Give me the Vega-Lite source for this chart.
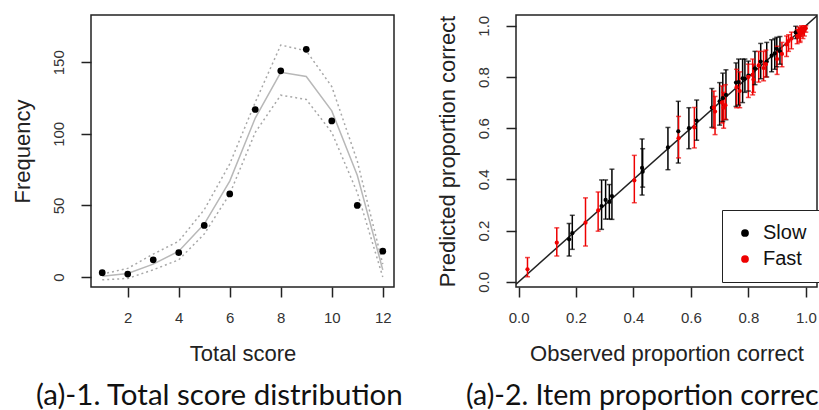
{
  "$schema": "https://vega.github.io/schema/vega-lite/v6.json",
  "padding": {"left": 10, "top": 14, "right": 0, "bottom": 0},
  "background": "white",
  "datasets": {
    "score": [
      {"score": 1, "obs": 3, "fit": 0.5, "lo": -2, "hi": 2},
      {"score": 2, "obs": 2, "fit": 2.5, "lo": -1, "hi": 6},
      {"score": 3, "obs": 12, "fit": 9, "lo": 5, "hi": 16},
      {"score": 4, "obs": 17, "fit": 18, "lo": 12, "hi": 25},
      {"score": 5, "obs": 36, "fit": 37, "lo": 30, "hi": 47},
      {"score": 6, "obs": 58, "fit": 67, "lo": 58, "hi": 79},
      {"score": 7, "obs": 117, "fit": 111, "lo": 101, "hi": 122},
      {"score": 8, "obs": 144, "fit": 143, "lo": 127, "hi": 162},
      {"score": 9, "obs": 159, "fit": 140, "lo": 124, "hi": 158},
      {"score": 10, "obs": 109, "fit": 116, "lo": 101, "hi": 133},
      {"score": 11, "obs": 50, "fit": 71, "lo": 59, "hi": 81},
      {"score": 12, "obs": 18, "fit": 5, "lo": 0, "hi": 9}
    ],
    "items": [
      {"group": "Slow", "obs": 0.176, "pred": 0.166, "lo": 0.101, "hi": 0.228},
      {"group": "Slow", "obs": 0.187, "pred": 0.190, "lo": 0.127, "hi": 0.260},
      {"group": "Slow", "obs": 0.289, "pred": 0.296, "lo": 0.205, "hi": 0.398},
      {"group": "Slow", "obs": 0.303, "pred": 0.320, "lo": 0.245, "hi": 0.398},
      {"group": "Slow", "obs": 0.316, "pred": 0.312, "lo": 0.245, "hi": 0.380},
      {"group": "Slow", "obs": 0.325, "pred": 0.335, "lo": 0.244, "hi": 0.440},
      {"group": "Slow", "obs": 0.430, "pred": 0.445, "lo": 0.339, "hi": 0.558},
      {"group": "Slow", "obs": 0.432, "pred": 0.430, "lo": 0.370, "hi": 0.520},
      {"group": "Slow", "obs": 0.520, "pred": 0.525, "lo": 0.438, "hi": 0.603},
      {"group": "Slow", "obs": 0.556, "pred": 0.588, "lo": 0.464, "hi": 0.705},
      {"group": "Slow", "obs": 0.593, "pred": 0.600, "lo": 0.520, "hi": 0.680},
      {"group": "Slow", "obs": 0.620, "pred": 0.630, "lo": 0.553, "hi": 0.710},
      {"group": "Slow", "obs": 0.673, "pred": 0.680, "lo": 0.603, "hi": 0.755},
      {"group": "Slow", "obs": 0.700, "pred": 0.705, "lo": 0.612, "hi": 0.778},
      {"group": "Slow", "obs": 0.711, "pred": 0.717, "lo": 0.626, "hi": 0.815},
      {"group": "Slow", "obs": 0.722, "pred": 0.730, "lo": 0.633, "hi": 0.828},
      {"group": "Slow", "obs": 0.757, "pred": 0.778, "lo": 0.685, "hi": 0.855},
      {"group": "Slow", "obs": 0.766, "pred": 0.780, "lo": 0.690, "hi": 0.870},
      {"group": "Slow", "obs": 0.780, "pred": 0.795, "lo": 0.700, "hi": 0.870},
      {"group": "Slow", "obs": 0.788, "pred": 0.793, "lo": 0.740, "hi": 0.870},
      {"group": "Slow", "obs": 0.800, "pred": 0.805, "lo": 0.745, "hi": 0.862},
      {"group": "Slow", "obs": 0.823, "pred": 0.834, "lo": 0.770, "hi": 0.900},
      {"group": "Slow", "obs": 0.843, "pred": 0.860, "lo": 0.793, "hi": 0.931},
      {"group": "Slow", "obs": 0.864, "pred": 0.860, "lo": 0.800, "hi": 0.935},
      {"group": "Slow", "obs": 0.881, "pred": 0.883, "lo": 0.820, "hi": 0.945},
      {"group": "Slow", "obs": 0.892, "pred": 0.892, "lo": 0.830, "hi": 0.950},
      {"group": "Slow", "obs": 0.899, "pred": 0.910, "lo": 0.840, "hi": 0.955},
      {"group": "Slow", "obs": 0.910, "pred": 0.900, "lo": 0.850, "hi": 0.958},
      {"group": "Slow", "obs": 0.965, "pred": 0.974, "lo": 0.950, "hi": 0.998},
      {"group": "Fast", "obs": 0.031, "pred": 0.049, "lo": 0.020, "hi": 0.095},
      {"group": "Fast", "obs": 0.133, "pred": 0.153, "lo": 0.101, "hi": 0.211},
      {"group": "Fast", "obs": 0.233, "pred": 0.231, "lo": 0.140, "hi": 0.328},
      {"group": "Fast", "obs": 0.277, "pred": 0.279, "lo": 0.198, "hi": 0.351},
      {"group": "Fast", "obs": 0.403, "pred": 0.396, "lo": 0.309, "hi": 0.494},
      {"group": "Fast", "obs": 0.557, "pred": 0.561, "lo": 0.484, "hi": 0.646},
      {"group": "Fast", "obs": 0.612, "pred": 0.603, "lo": 0.523, "hi": 0.681},
      {"group": "Fast", "obs": 0.680, "pred": 0.680, "lo": 0.600, "hi": 0.745},
      {"group": "Fast", "obs": 0.684, "pred": 0.665, "lo": 0.575, "hi": 0.724},
      {"group": "Fast", "obs": 0.708, "pred": 0.700, "lo": 0.620, "hi": 0.765},
      {"group": "Fast", "obs": 0.720, "pred": 0.690, "lo": 0.635, "hi": 0.770},
      {"group": "Fast", "obs": 0.714, "pred": 0.680, "lo": 0.600, "hi": 0.740},
      {"group": "Fast", "obs": 0.759, "pred": 0.760, "lo": 0.680, "hi": 0.830},
      {"group": "Fast", "obs": 0.770, "pred": 0.745, "lo": 0.680, "hi": 0.820},
      {"group": "Fast", "obs": 0.800, "pred": 0.800, "lo": 0.720, "hi": 0.850},
      {"group": "Fast", "obs": 0.815, "pred": 0.808, "lo": 0.730, "hi": 0.870},
      {"group": "Fast", "obs": 0.818, "pred": 0.790, "lo": 0.740, "hi": 0.850},
      {"group": "Fast", "obs": 0.836, "pred": 0.845, "lo": 0.780, "hi": 0.900},
      {"group": "Fast", "obs": 0.853, "pred": 0.835, "lo": 0.785, "hi": 0.900},
      {"group": "Fast", "obs": 0.861, "pred": 0.850, "lo": 0.800, "hi": 0.905},
      {"group": "Fast", "obs": 0.900, "pred": 0.870, "lo": 0.810, "hi": 0.920},
      {"group": "Fast", "obs": 0.917, "pred": 0.890, "lo": 0.840, "hi": 0.935},
      {"group": "Fast", "obs": 0.933, "pred": 0.927, "lo": 0.880, "hi": 0.960},
      {"group": "Fast", "obs": 0.940, "pred": 0.940, "lo": 0.900, "hi": 0.965},
      {"group": "Fast", "obs": 0.950, "pred": 0.950, "lo": 0.910, "hi": 0.975},
      {"group": "Fast", "obs": 0.970, "pred": 0.960, "lo": 0.930, "hi": 0.985},
      {"group": "Fast", "obs": 0.975, "pred": 0.980, "lo": 0.950, "hi": 0.995},
      {"group": "Fast", "obs": 0.980, "pred": 0.970, "lo": 0.940, "hi": 0.990},
      {"group": "Fast", "obs": 0.985, "pred": 0.990, "lo": 0.965, "hi": 1.000},
      {"group": "Fast", "obs": 0.990, "pred": 0.975, "lo": 0.950, "hi": 0.995},
      {"group": "Fast", "obs": 0.995, "pred": 0.985, "lo": 0.960, "hi": 1.000},
      {"group": "Fast", "obs": 1.000, "pred": 0.990, "lo": 0.975, "hi": 1.000},
      {"group": "Fast", "obs": 0.980, "pred": 0.960, "lo": 0.935, "hi": 0.985}
    ],
    "diag": [{"x": -0.1, "y": -0.1}, {"x": 1.2, "y": 1.2}]
  },
  "spacing": 30,
  "hconcat": [
    {
      "width": 303,
      "height": 272,
      "title": {"text": "(a)-1. Total score distribution", "orient": "bottom", "anchor": "start", "frame": "group", "dx": -55, "offset": 18, "font": "Lato", "fontSize": 29.5, "fontWeight": "normal", "color": "#111"},
      "data": {"name": "score"},
      "layer": [
        {
          "mark": {"type": "line", "color": "#b8b8b8", "strokeWidth": 1.5},
          "encoding": {
            "x": {"field": "score", "type": "quantitative", "title": "Total score", "scale": {"domain": [0.56, 12.44], "nice": false, "zero": false}, "axis": {"values": [2, 4, 6, 8, 10, 12]}},
            "y": {"field": "fit", "type": "quantitative", "title": "Frequency", "scale": {"domain": [-7, 183], "nice": false, "zero": false}, "axis": {"values": [0, 50, 100, 150]}}
          }
        },
        {
          "mark": {"type": "line", "color": "#a8a8a8", "strokeWidth": 1.5, "strokeDash": [2, 3]},
          "encoding": {
            "x": {"field": "score", "type": "quantitative", "title": "Total score"},
            "y": {"field": "hi", "type": "quantitative", "title": "Frequency"}
          }
        },
        {
          "mark": {"type": "line", "color": "#a8a8a8", "strokeWidth": 1.5, "strokeDash": [2, 3]},
          "encoding": {
            "x": {"field": "score", "type": "quantitative", "title": "Total score"},
            "y": {"field": "lo", "type": "quantitative", "title": "Frequency"}
          }
        },
        {
          "mark": {"type": "point", "shape": "circle", "filled": true, "color": "black", "opacity": 1, "size": 45},
          "encoding": {
            "x": {"field": "score", "type": "quantitative", "title": "Total score"},
            "y": {"field": "obs", "type": "quantitative", "title": "Frequency"}
          }
        }
      ]
    },
    {
      "width": 301,
      "height": 272,
      "title": {"text": "(a)-2. Item proportion correct", "orient": "bottom", "anchor": "start", "frame": "group", "dx": -50, "offset": 18, "font": "Lato", "fontSize": 28.5, "fontWeight": "normal", "color": "#111"},
      "layer": [
        {
          "data": {"name": "diag"},
          "mark": {"type": "line", "color": "#222", "strokeWidth": 1.5, "clip": true},
          "encoding": {
            "x": {"field": "x", "type": "quantitative", "title": "Observed proportion correct", "scale": {"domain": [-0.009, 1.039], "nice": false, "zero": false}, "axis": {"values": [0, 0.2, 0.4, 0.6, 0.8, 1], "format": ".1f"}},
            "y": {"field": "y", "type": "quantitative", "title": "Predicted proportion correct", "scale": {"domain": [-0.02, 1.042], "nice": false, "zero": false}, "axis": {"values": [0, 0.2, 0.4, 0.6, 0.8, 1], "format": ".1f"}}
          }
        },
        {
          "data": {"name": "items"},
          "mark": {"type": "rule", "strokeWidth": 1.5},
          "encoding": {
            "x": {"field": "obs", "type": "quantitative", "title": "Observed proportion correct"},
            "y": {"field": "lo", "type": "quantitative", "title": "Predicted proportion correct"},
            "y2": {"field": "hi"},
            "color": {"field": "group", "type": "nominal", "scale": {"domain": ["Slow", "Fast"], "range": ["#000000", "#ee0000"]}}
          }
        },
        {
          "data": {"name": "items"},
          "mark": {"type": "tick", "orient": "horizontal", "size": 5, "thickness": 1.5},
          "encoding": {
            "x": {"field": "obs", "type": "quantitative", "title": "Observed proportion correct"},
            "y": {"field": "lo", "type": "quantitative", "title": "Predicted proportion correct"},
            "color": {"field": "group", "type": "nominal"}
          }
        },
        {
          "data": {"name": "items"},
          "mark": {"type": "tick", "orient": "horizontal", "size": 5, "thickness": 1.5},
          "encoding": {
            "x": {"field": "obs", "type": "quantitative", "title": "Observed proportion correct"},
            "y": {"field": "hi", "type": "quantitative", "title": "Predicted proportion correct"},
            "color": {"field": "group", "type": "nominal"}
          }
        },
        {
          "data": {"name": "items"},
          "mark": {"type": "point", "shape": "circle", "filled": true, "opacity": 1, "size": 18},
          "encoding": {
            "x": {"field": "obs", "type": "quantitative", "title": "Observed proportion correct"},
            "y": {"field": "pred", "type": "quantitative", "title": "Predicted proportion correct"},
            "color": {"field": "group", "type": "nominal"}
          }
        }
      ]
    }
  ],
  "config": {
    "view": {"stroke": "#222", "strokeWidth": 1.5},
    "legend": {"title": null, "orient": "none", "legendX": 631, "legendY": 195, "padding": 13, "rowPadding": 6, "symbolType": "circle", "symbolSize": 60, "symbolStrokeWidth": 0, "symbolOpacity": 1, "labelFont": "Liberation Sans", "labelFontSize": 20, "labelColor": "#111", "labelOffset": 8, "strokeColor": "#222", "fillColor": "white", "cornerRadius": 0},
    "axis": {
      "grid": false,
      "domain": false,
      "tickColor": "#222",
      "tickSize": 10,
      "tickWidth": 1.5,
      "labelFont": "Liberation Sans",
      "labelFontSize": 15,
      "labelColor": "#333",
      "titleFont": "Liberation Sans",
      "titleFontSize": 22,
      "titleFontWeight": "normal",
      "titleColor": "#222"
    },
    "axisX": {"labelPadding": 13, "titlePadding": 18},
    "axisY": {"labelAngle": 270, "labelAlign": "center", "labelBaseline": "bottom", "labelPadding": 15, "titlePadding": 17}
  }
}
